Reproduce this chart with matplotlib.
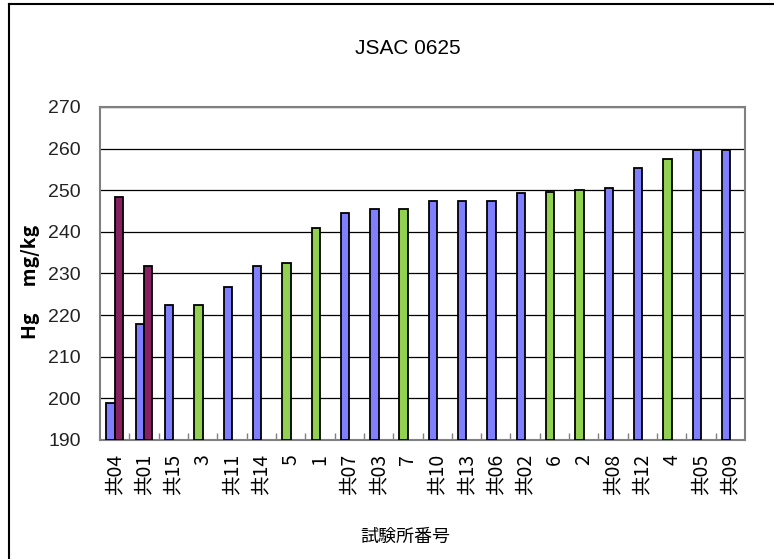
import numpy as np
import matplotlib.pyplot as plt
from matplotlib.lines import Line2D

# data
labs = ['共04', '共01', '共15', '3', '共11', '共14', '5', '1', '共07', '共03', '7',
        '共10', '共13', '共06', '共02', '6', '2', '共08', '共12', '4', '共05', '共09']
vals = [199.0, 217.8, 222.4, 222.4, 226.8, 231.7, 232.6, 240.9, 244.5, 245.4, 245.6,
        247.4, 247.4, 247.4, 249.3, 249.5, 250.0, 250.6, 255.4, 257.5, 259.7, 259.7]
vals2 = [248.3, 231.8]  # second result, only for the first two labs
yticks = list(range(190, 271, 10))

blue = '#8080FF'
green = '#92D050'
purple = '#862060'

cjk = ['Noto Sans CJK JP', 'DejaVu Sans']
narrow = ['Liberation Sans', 'DejaVu Sans']

W, H = 774, 559
fig = plt.figure(figsize=(W / 100, H / 100), dpi=100)
ax = fig.add_axes([100 / W, (H - 440) / H, 645 / W, 333 / H])

x = np.arange(len(labs))
bw = 0.286
cols = [blue if s.startswith('共') else green for s in labs]
base = yticks[0]
ax.bar(x - bw / 2, np.array(vals) - base, bw, bottom=base, color=cols,
       edgecolor='black', linewidth=1.3, zorder=3)
x2 = np.arange(len(vals2))
ax.bar(x2 + bw / 2, np.array(vals2) - base, bw, bottom=base, color=purple,
       edgecolor='black', linewidth=1.3, zorder=3)

ax.set_xlim(-0.5, len(labs) - 0.5)
ax.set_ylim(yticks[0], yticks[-1])
ax.set_yticks(yticks)
ax.set_yticklabels([str(v) for v in yticks], family=narrow, fontsize=14, color='#222222')
ax.tick_params(axis='y', length=0, pad=14)
ax.yaxis.grid(True, color='black', linewidth=0.9, zorder=0)

ax.set_xticks(x)
ax.set_xticklabels(labs, rotation=90, family=cjk, fontsize=14, va='top', ha='center')
ax.tick_params(axis='x', which='major', length=0, pad=10)
ax.set_xticks(np.arange(0.5, len(labs) - 0.5, 1), minor=True)
ax.tick_params(axis='x', which='minor', direction='in', length=5, width=1, color='#808080')

for sp in ax.spines.values():
    sp.set_color('#808080')
    sp.set_linewidth(1.5)

fig.text(408 / W, 1 - 48 / H, 'JSAC 0625', ha='center', va='center',
         family=narrow, fontsize=15)
fig.text(405 / W, 1 - 537 / H, '試験所番号', ha='center', va='center',
         family=cjk, fontsize=13)
fig.text(31 / W, 1 - 282 / H, 'Hg      mg/kg', ha='center', va='center',
         rotation=90, family=cjk, fontsize=14, fontweight='bold')

# outer chart border (cut off at right and bottom)
fig.add_artist(Line2D([9 / W, 9 / W], [0, 1 - 4 / H], transform=fig.transFigure,
                      color='black', linewidth=1.5))
fig.add_artist(Line2D([9 / W, 1], [1 - 4 / H, 1 - 4 / H], transform=fig.transFigure,
                      color='black', linewidth=1.5))

fig.savefig('out.png', dpi=100)
